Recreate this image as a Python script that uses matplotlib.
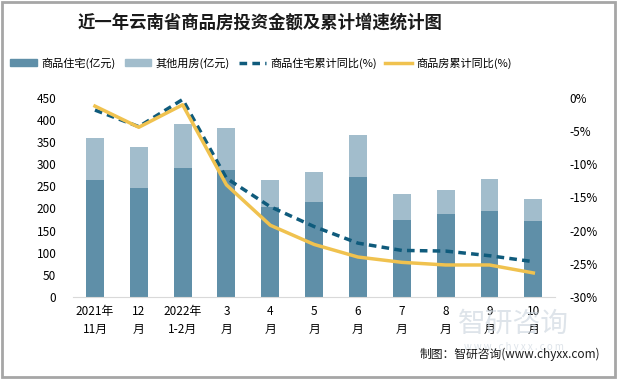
import numpy as np
import matplotlib.pyplot as plt
from matplotlib.patches import Rectangle, Patch
from matplotlib.lines import Line2D

plt.rcParams['font.family'] = ['Noto Sans CJK SC', 'DejaVu Sans']

# data
months = ['2021年\n11月', '12\n月', '2022年\n1-2月', '3\n月', '4\n月', '5\n月',
          '6\n月', '7\n月', '8\n月', '9\n月', '10\n月']
residential = [264, 246, 291, 287, 204, 214, 271, 174, 187, 194, 171]
other = [95, 93, 100, 95, 60, 68, 95, 59, 55, 73, 50]
resid_yoy = [-1.8, -4.3, -0.2, -12.1, -16.4, -19.4, -21.9, -23.0, -23.1, -23.8, -24.7]
total_yoy = [-1.2, -4.4, -1.0, -13.1, -19.2, -22.1, -24.0, -24.8, -25.2, -25.2, -26.4]

c_res = '#5f8fa8'
c_oth = '#a2bdcc'
c_dash = '#0f5b7c'
c_yel = '#f0c24f'

fig = plt.figure(figsize=(6.19, 3.79), dpi=100)
ax = fig.add_axes([0.118, 0.217, 0.779, 0.524])
x = np.arange(len(months))

ax.bar(x, residential, width=0.41, color=c_res, zorder=2)
ax.bar(x, other, width=0.41, bottom=residential, color=c_oth, zorder=2)
ax.set_xlim(-0.5, len(months) - 0.5)
ax.set_ylim(0, 450)
ax.set_yticks(range(0, 451, 50))
ax.set_xticks(x)
ax.set_xticklabels(months, fontsize=8.5, linespacing=1.5)
ax.tick_params(axis='both', length=0, labelsize=8.5)
ax.tick_params(axis='x', pad=6)
ax.tick_params(axis='y', pad=12)
for s in ['top', 'right', 'left']:
    ax.spines[s].set_visible(False)
ax.spines['bottom'].set_color('#d9d9d9')

ax2 = ax.twinx()
ax2.plot(x, resid_yoy, color=c_dash, lw=2.5, ls=(0, (2.2, 1.5)), zorder=3)
ax2.plot(x, total_yoy, color=c_yel, lw=2.5, zorder=3)
ax2.set_ylim(-30, 0)
ax2.set_yticks(range(-30, 1, 5))
ax2.set_yticklabels([f'{v}%' for v in range(-30, 1, 5)])
ax2.tick_params(axis='y', length=0, labelsize=8.5, pad=10)
for s in ['top', 'right', 'left', 'bottom']:
    ax2.spines[s].set_visible(False)

fig.text(0.42, 0.94, '近一年云南省商品房投资金额及累计增速统计图', ha='center', va='center',
         fontsize=12.5, fontweight='bold', color='#1a1a1a')

handles = [Patch(color=c_res), Patch(color=c_oth),
           Line2D([], [], color=c_dash, lw=2.5, ls=(0, (2.2, 1.5))),
           Line2D([], [], color=c_yel, lw=2.5)]
labels = ['商品住宅(亿元)', '其他用房(亿元)', '商品住宅累计同比(%)', '商品房累计同比(%)']
fig.legend(handles, labels, loc='center', bbox_to_anchor=(0.422, 0.834), ncol=4,
           frameon=False, fontsize=8, handlelength=2.4, handleheight=0.5,
           columnspacing=0.8, handletextpad=0.4)

# watermark
fig.text(0.83, 0.145, '智研咨询', ha='center', va='center', fontsize=20,
         color='#c8d2dc', alpha=0.6, zorder=0)
fig.text(0.83, 0.085, 'w w w . c h y x x . c o m', ha='center', va='center', fontsize=7,
         color='#c8d2dc', alpha=0.6, zorder=0)

fig.text(0.97, 0.065, '制图：智研咨询(www.chyxx.com)', ha='right', va='center',
         fontsize=8.5, color='#1a1a1a')

fig.patches.append(Rectangle((0.004, 0.006), 0.99, 0.988, transform=fig.transFigure,
                             fill=False, edgecolor='#a6a6a6', lw=2))

fig.savefig('out.png', dpi=100)
